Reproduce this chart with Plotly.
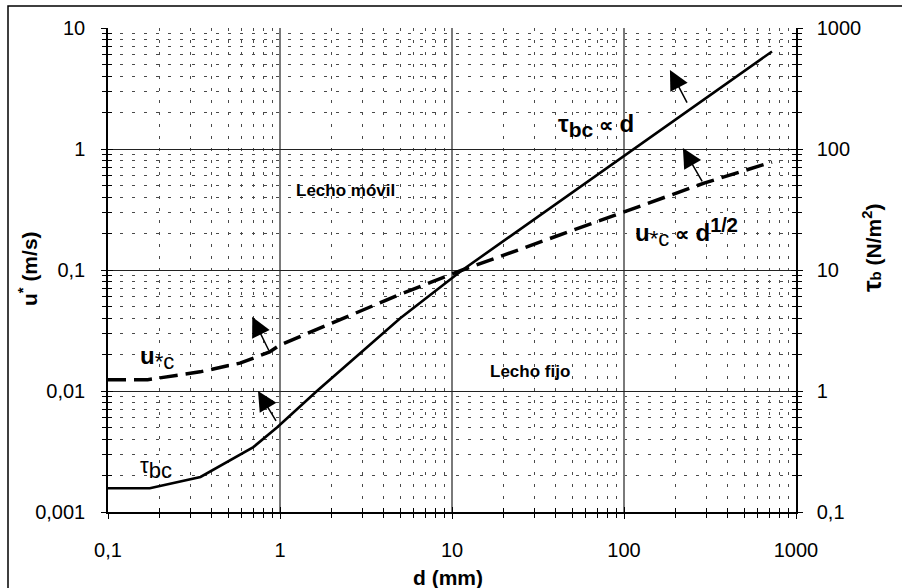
import math
import plotly.graph_objects as go

# ---------------- data ----------------
d_tau = [0.1, 0.175, 0.345, 0.70, 0.96, 1.64, 5.0, 11.5, 725]
tau_bc = [0.157, 0.157, 0.195, 0.344, 0.50, 1.0, 4.0, 10.0, 640]      # N/m2 (right axis)

d_u = [0.1, 0.17, 0.343, 0.585, 0.87, 1.0, 5.0, 11.5, 295, 725]
u_c = [0.0124, 0.0124, 0.0144, 0.017, 0.021, 0.024, 0.063, 0.1, 0.525, 0.78]  # m/s (left axis)

x_ticks = [0.1, 1, 10, 100, 1000]
x_ticktext = ["0,1", "1", "10", "100", "1000"]
y_ticks = [0.001, 0.01, 0.1, 1, 10]
y_ticktext = ["0,001", "0,01", "0,1", "1", "10"]
y2_ticks = [0.1, 1, 10, 100, 1000]
y2_ticktext = ["0,1", "1", "10", "100", "1000"]

# arrows: (tip_x, tip_y, tail_x, tail_y) on the left (u*) scale
arrows = [
    (185, 4.5, 235, 2.35),
    (220, 1.02, 288, 0.525),
    (0.69, 0.041, 0.87, 0.021),
    (0.745, 0.0100, 0.96, 0.0055),
]

FONT = "Liberation Sans, Arial, sans-serif"
L = math.log10

fig = go.Figure()

fig.add_trace(go.Scatter(x=d_u, y=u_c, mode="lines", yaxis="y",
                         line=dict(color="black", width=3.5, dash="18px,8px"),
                         showlegend=False, hoverinfo="skip"))
fig.add_trace(go.Scatter(x=d_tau, y=tau_bc, mode="lines", yaxis="y2",
                         line=dict(color="black", width=2.6),
                         showlegend=False, hoverinfo="skip"))
# dummy traces for tick-overlay axes
fig.add_trace(go.Scatter(x=[None], y=[None], xaxis="x2", yaxis="y3", showlegend=False, hoverinfo="skip"))
fig.add_trace(go.Scatter(x=[None], y=[None], xaxis="x2", yaxis="y4", showlegend=False, hoverinfo="skip"))

tickfont = dict(family=FONT, size=20, color="black")
minor_grid = dict(dtick="D1", showgrid=True, gridcolor="#4a4a4a", griddash="3px,9px",
                  gridwidth=1, ticks="outside", ticklen=4, tickcolor="black")

fig.update_layout(
    width=902, height=588,
    margin=dict(l=108, r=106, t=28, b=76),
    paper_bgcolor="white", plot_bgcolor="white",
    font=dict(family=FONT, color="black"),
    xaxis=dict(type="log", range=[-1, 3], tickvals=x_ticks, ticktext=x_ticktext,
               tickfont=tickfont, ticks="outside", ticklen=5, tickcolor="black",
               showgrid=True, gridcolor="#7a7a7a", gridwidth=1.6,
               showline=True, linecolor="black", linewidth=1.5,
               minor=minor_grid, ticklabelstandoff=14, zeroline=False),
    xaxis2=dict(type="log", range=[-1, 3], overlaying="x", anchor="y", side="bottom",
                showticklabels=False, ticks="inside", ticklen=5, tickcolor="black",
                dtick=1, showgrid=False, showline=False,
                minor=dict(dtick="D1", ticks="inside", ticklen=4, tickcolor="black", showgrid=False)),
    yaxis=dict(type="log", range=[-3, 1], tickvals=y_ticks, ticktext=y_ticktext,
               tickfont=tickfont, ticks="outside", ticklen=5, tickcolor="black",
               showgrid=True, gridcolor="#222222", gridwidth=1.2,
               showline=True, linecolor="black", linewidth=1.5,
               minor=dict(minor_grid), ticklabelstandoff=12, zeroline=False),
    yaxis2=dict(type="log", range=[-1, 3], overlaying="y", side="right", anchor="x",
                tickvals=y2_ticks, ticktext=y2_ticktext, tickfont=tickfont,
                ticks="outside", ticklen=5, tickcolor="black",
                showgrid=False, showline=True, linecolor="black", linewidth=1.5,
                minor=dict(dtick="D1", ticks="outside", ticklen=4, tickcolor="black", showgrid=False),
                ticklabelstandoff=10, zeroline=False),
    yaxis3=dict(type="log", range=[-3, 1], overlaying="y", side="left", anchor="x2",
                showticklabels=False, ticks="inside", ticklen=5, tickcolor="black", dtick=1,
                showgrid=False, showline=False,
                minor=dict(dtick="D1", ticks="inside", ticklen=4, tickcolor="black", showgrid=False)),
    yaxis4=dict(type="log", range=[-3, 1], overlaying="y", side="right", anchor="x2",
                showticklabels=False, ticks="inside", ticklen=5, tickcolor="black", dtick=1,
                showgrid=False, showline=False,
                minor=dict(dtick="D1", ticks="inside", ticklen=4, tickcolor="black", showgrid=False)),
)

# outer frame (only left and top edges visible in reference)
fig.add_shape(type="rect", xref="paper", yref="paper",
              x0=(8 - 108) / 688, x1=1.3, y0=-0.4, y1=(512 - 6) / 484,
              line=dict(color="black", width=1.5), fillcolor="rgba(0,0,0,0)", layer="below")

# arrows
for tx, ty, sx, sy in arrows:
    fig.add_annotation(x=L(tx), y=L(ty), ax=L(sx), ay=L(sy), xref="x", yref="y",
                       axref="x", ayref="y", text="", showarrow=True,
                       arrowhead=2, arrowsize=2.6, arrowwidth=1.5, arrowcolor="black")

def S(px, txt):
    return f"<span style='font-size:{px}px'>{txt}</span>"

def label(x, y, text, size=18, xanchor="left"):
    fig.add_annotation(x=L(x), y=L(y), xref="x", yref="y", text=text, showarrow=False,
                       xanchor=xanchor, yanchor="middle",
                       font=dict(family=FONT, size=size, color="black"))

label(117.5, 1.55, "<b>" + S(24, "τ") + "<sub>" + S(21, "bc") + "</sub> " + S(20, "∝") + " " + S(24, "d") + "</b>", 22, "right")
label(2.39, 0.458, "<b>Lecho móvil</b>", 17, "center")
label(28.4, 0.0144, "<b>Lecho fijo</b>", 17, "center")
label(113, 0.206, "<b>" + S(24, "u") + "</b><sub>" + S(22, "*c") + "</sub><b> " + S(20, "∝") + " " + S(24, "d")
      + "<sup>" + S(20, "1/2") + "</sup></b>", 22)
label(0.149, 0.0187, "<b>" + S(24, "u") + "</b><sub>" + S(22, "*c") + "</sub>", 22)
label(0.149, 0.00231, S(22, "τ") + "<sub>" + S(22, "bc") + "</sub>", 22)

# axis titles
fig.add_annotation(x=(448 - 108) / 688, y=(512 - 577) / 484, xref="paper", yref="paper",
                   text="<b>d (mm)</b>", showarrow=False, xanchor="center", yanchor="middle",
                   font=dict(family=FONT, size=21, color="black"))
fig.add_annotation(x=(28 - 108) / 688, y=(512 - 269) / 484, xref="paper", yref="paper",
                   text="<b>u<sup>*</sup> (m/s)</b>", textangle=-90, showarrow=False,
                   xanchor="center", yanchor="middle",
                   font=dict(family=FONT, size=21, color="black"))
fig.add_annotation(x=(872 - 108) / 688, y=(512 - 248) / 484, xref="paper", yref="paper",
                   text="<b>" + S(26, "τ") + S(15, "b") + " (N/m<sup>2</sup>)</b>",
                   textangle=-90, showarrow=False, xanchor="center", yanchor="middle",
                   font=dict(family=FONT, size=21, color="black"))

fig.write_html("out.html")
